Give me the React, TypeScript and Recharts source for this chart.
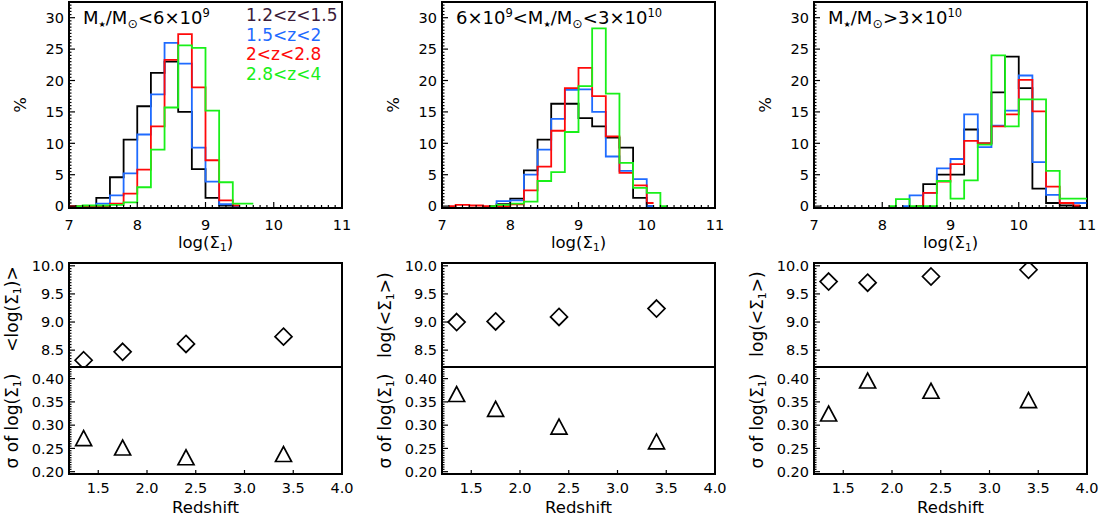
import React from "react";
import { Legend, Line, LineChart, ReferenceArea, Scatter, ScatterChart, XAxis, YAxis } from "recharts";

const FONT = "'DejaVu Sans', sans-serif";
const _ = null;

// histogram bin centres, log(Σ1)
const binCenters = [6.9, 7.1, 7.3, 7.5, 7.7, 7.9, 8.1, 8.3, 8.5, 8.7, 8.9, 9.1, 9.3, 9.5, 9.7, 9.9, 10.1, 10.3, 10.5, 10.7, 10.9, 11.1];

// M* < 6e9
const lowBlack = [_, _, 0, 1.3, 4.6, 10.6, 15.9, 21.2, 23.0, 15.0, 5.9, 1.3, 0.1, 0, _, _, _, _, _, _, _, _];
const lowBlue = [_, _, 0, 0.4, 1.7, 5.2, 11.4, 17.8, 26.0, 22.7, 9.3, 3.9, 0.3, 0, _, _, _, _, _, _, _, _];
const lowRed = [0, 0, 0, 0, 0.4, 2.0, 5.8, 12.7, 23.3, 27.4, 18.9, 7.3, 0.9, 0.1, _, _, _, _, _, _, _, _];
const lowGreen = [_, 0, 0.1, 0.1, 0.2, 0.6, 3.0, 9.0, 15.7, 25.6, 25.2, 15.2, 3.8, 0.4, 0.4, _, _, _, _, _, _, _];

// 6e9 < M* < 3e10
const midBlack = [_, _, _, _, 0, 0.3, 1.2, 5.7, 10.6, 16.3, 16.3, 14.0, 12.7, 10.9, 9.3, 1.3, 0, _, _, _, _, _];
const midBlue = [_, _, _, _, 0, 0.8, 0.9, 5.0, 9.0, 13.9, 18.5, 18.6, 15.0, 7.9, 5.6, 4.3, 0, _, _, _, _, _];
const midRed = [_, 0, 0.2, 0.1, 0, 0, 0.3, 2.5, 6.3, 12.0, 18.8, 22.0, 17.5, 11.1, 5.3, 3.3, 0.5, _, _, _, _, _];
const midGreen = [_, _, _, _, 0, 0.2, 0.4, 0.7, 4.0, 5.4, 11.8, 19.1, 28.3, 17.9, 6.9, 2.9, 2.1, 0, _, _, _, _];

// M* > 3e10
const highBlack = [_, _, _, _, _, _, _, _, 0, 3.5, 5.0, 5.0, 12.2, 10.0, 18.1, 23.8, 18.8, 2.8, 0.5, 0.1, 0, _];
const highBlue = [_, _, _, _, _, _, _, 0, 1.7, 2.1, 6.0, 7.5, 14.6, 9.4, 12.8, 15.2, 20.8, 7.0, 1.8, 0.5, 0.5, 0.5];
const highRed = [_, _, _, _, _, _, _, _, 0, 2.1, 3.9, 6.7, 10.4, 10.0, 12.7, 14.6, 20.1, 15.1, 3.1, 0.5, 0.1, _];
const highGreen = [_, _, _, _, _, _, 0, 1.1, 0, 0, 4.0, 1.2, 4.1, 9.8, 24.0, 12.7, 17.0, 17.0, 5.6, 1.2, 1.2, 1.2];

const zBins = ["1.2<z<1.5", "1.5<z<2", "2<z<2.8", "2.8<z<4"];
const zColors = ["#000000", "#1f6bff", "#ff0a0a", "#19f019"];
const legendColors = ["#3a1c3a", "#1f6bff", "#ff0a0a", "#19f019"];

// mean and scatter of log(Σ1) per redshift bin
const redshift = [1.35, 1.75, 2.4, 3.4];
const meanLow = [8.32, 8.47, 8.61, 8.74];
const meanMid = [9.0, 9.01, 9.09, 9.24];
const meanHigh = [9.72, 9.7, 9.81, 9.93];
const sigmaLow = [0.272, 0.252, 0.231, 0.238];
const sigmaMid = [0.367, 0.335, 0.297, 0.265];
const sigmaHigh = [0.325, 0.396, 0.374, 0.354];

// tick labels
const histXTicks = [7, 8, 9, 10, 11];
const histYTicks = [0, 5, 10, 15, 20, 25, 30];
const zTicks = [1.5, 2.0, 2.5, 3.0, 3.5, 4.0];
const meanTicks = [8.5, 9.0, 9.5, 10.0];
const sigmaTicks = [0.2, 0.25, 0.3, 0.35, 0.4];

const steps = (a: number, b: number, s: number) => {
  const out: number[] = [];
  for (let v = a; v <= b + 1e-9; v += s) out.push(Math.round(v * 1000) / 1000);
  return out;
};

const TICK_FS = 14.5;
const BOX_W = 273;
const COLS = [69, 442, 814];

type Side = "bottom" | "top" | "left" | "right";
const isIn = (list: number[], v: number) => list.some((m) => Math.abs(m - v) < 1e-6);

function tickMaker(side: Side, major: number[], majorLen: number, minorLen: number, fmt?: (v: number) => string, labelDy = 22) {
  return function TickMark(props: any) {
    const x = Number(props.x);
    const y = Number(props.y);
    const v = Number(props.payload?.value);
    const big = isIn(major, v);
    const len = big ? majorLen : minorLen;
    const d = { bottom: [0, -len], top: [0, len], left: [len, 0], right: [-len, 0] }[side];
    return (
      <g>
        <line x1={x} y1={y} x2={x + d[0]} y2={y + d[1]} stroke="#000" strokeWidth={1.2} />
        {fmt && big && side === "bottom" && (
          <text x={x} y={y + labelDy} textAnchor="middle" fontSize={TICK_FS} fontFamily={FONT} fill="#000">
            {fmt(v)}
          </text>
        )}
        {fmt && big && side === "left" && (
          <text x={x - 5} y={y + 5.3} textAnchor="end" fontSize={TICK_FS} fontFamily={FONT} fill="#000">
            {fmt(v)}
          </text>
        )}
      </g>
    );
  };
}

type FrameOpts = {
  xKey: string;
  yKey?: string;
  xDomain: [number, number];
  yDomain: [number, number];
  xAll: number[];
  xMajor: number[];
  yAll: number[];
  yMajor: number[];
  xFmt?: (v: number) => string;
  yFmt: (v: number) => string;
  xLen: [number, number];
  yLen: [number, number];
  bottomH: number;
  leftW: number;
  labelDy?: number;
};

function frame(o: FrameOpts) {
  const common = {
    axisLine: false,
    tickLine: false,
    tickSize: 0,
    tickMargin: 0,
    interval: 0 as const,
    allowDataOverflow: true,
    type: "number" as const,
  };
  return [
    <XAxis key="xb" {...common} xAxisId="b" orientation="bottom" dataKey={o.xKey} domain={o.xDomain} ticks={o.xAll} height={o.bottomH} tick={tickMaker("bottom", o.xMajor, o.xLen[0], o.xLen[1], o.xFmt, o.labelDy)} />,
    <XAxis key="xt" {...common} xAxisId="t" orientation="top" dataKey={o.xKey} domain={o.xDomain} ticks={o.xAll} height={0} tick={tickMaker("top", o.xMajor, o.xLen[0], o.xLen[1])} />,
    <YAxis key="yl" {...common} yAxisId="l" orientation="left" dataKey={o.yKey} domain={o.yDomain} ticks={o.yAll} width={o.leftW} tick={tickMaker("left", o.yMajor, o.yLen[0], o.yLen[1], o.yFmt)} />,
    <YAxis key="yr" {...common} yAxisId="r" orientation="right" dataKey={o.yKey} domain={o.yDomain} ticks={o.yAll} width={0} tick={tickMaker("right", o.yMajor, o.yLen[0], o.yLen[1])} />,
  ];
}

// plot frame drawn through the axes' own scales
function box(xDomain: [number, number], yDomain: [number, number]) {
  return (
    <ReferenceArea
      xAxisId="b"
      yAxisId="l"
      x1={xDomain[0]}
      x2={xDomain[1]}
      y1={yDomain[0]}
      y2={yDomain[1]}
      fill="none"
      fillOpacity={0}
      stroke="#000"
      strokeWidth={2}
      ifOverflow="visible"
    />
  );
}

type Part = string | { t: string; sub?: boolean; sup?: boolean; scale?: number };
const Rich = ({ parts }: { parts: Part[] }) => (
  <>
    {parts.map((p, i) =>
      typeof p === "string" ? (
        <span key={i}>{p}</span>
      ) : (
        <span
          key={i}
          style={{ fontSize: `${p.scale ?? 0.64}em`, position: "relative", top: p.sup ? "-0.6em" : "0.32em" }}
        >
          {p.t}
        </span>
      )
    )}
  </>
);

function Note({ x, y, size, rotate, start, color = "#000", children }: any) {
  const tx = start ? "0" : "-50%";
  return (
    <div
      style={{
        position: "absolute",
        left: x,
        top: y,
        transform: `translate(${tx}, -50%)${rotate ? " rotate(-90deg)" : ""}`,
        fontSize: size,
        fontFamily: FONT,
        color,
        whiteSpace: "nowrap",
        lineHeight: 1,
      }}
    >
      {children}
    </div>
  );
}

const STAR: Part = { t: "★", sub: true, scale: 0.45 };
const SUN: Part = { t: "⊙", sub: true, scale: 0.7 };
const titles: Part[][] = [
  ["M", STAR, "/M", SUN, "<6×10", { t: "9", sup: true }],
  ["6×10", { t: "9", sup: true }, "<M", STAR, "/M", SUN, "<3×10", { t: "10", sup: true }],
  ["M", STAR, "/M", SUN, ">3×10", { t: "10", sup: true }],
];
const meanTitles: Part[][] = [
  ["<log(Σ", { t: "1", sub: true }, ")>"],
  ["log(<Σ", { t: "1", sub: true }, ">)"],
  ["log(<Σ", { t: "1", sub: true }, ">)"],
];
const meanTitleY = [309, 315, 314];
const sigmaTitle: Part[] = ["σ of log(Σ", { t: "1", sub: true }, ")"];
const logTitle: Part[] = ["log(Σ", { t: "1", sub: true }, ")"];

const histSets = [
  [lowBlack, lowBlue, lowRed, lowGreen],
  [midBlack, midBlue, midRed, midGreen],
  [highBlack, highBlue, highRed, highGreen],
];
const meanSets = [meanLow, meanMid, meanHigh];
const sigmaSets = [sigmaLow, sigmaMid, sigmaHigh];
const keys = ["black", "blue", "red", "green"];

const fmtInt = (v: number) => String(v);
const fmt1 = (v: number) => v.toFixed(1);
const fmt2 = (v: number) => v.toFixed(2);

const Diamond = (p: any) => (
  <polygon
    points={`${p.cx},${p.cy - 8.5} ${p.cx + 8.5},${p.cy} ${p.cx},${p.cy + 8.5} ${p.cx - 8.5},${p.cy}`}
    fill="none"
    stroke="#000"
    strokeWidth={1.7}
  />
);
const Triangle = (p: any) => (
  <polygon
    points={`${p.cx - 8},${p.cy + 7.5} ${p.cx},${p.cy - 7.5} ${p.cx + 8},${p.cy + 7.5}`}
    fill="none"
    stroke="#000"
    strokeWidth={1.7}
  />
);

const LEFT_W = 62;
const RIGHT_M = 14;
const HIST_X: [number, number] = [7, 11];
const HIST_Y: [number, number] = [-0.3, 32.5];
const Z_X: [number, number] = [1.2, 4.0];
const MEAN_Y: [number, number] = [8.2, 10.05];
const SIGMA_Y: [number, number] = [0.195, 0.425];

function HistPanel({ col }: { col: number }) {
  const sets = histSets[col];
  const data = binCenters.map((c, i) => ({ x: c, black: sets[0][i], blue: sets[1][i], red: sets[2][i], green: sets[3][i] }));
  return (
    <div style={{ position: "absolute", left: COLS[col] - LEFT_W, top: 0 }}>
      <LineChart width={LEFT_W + BOX_W + RIGHT_M} height={252} data={data} margin={{ top: 2, right: RIGHT_M, bottom: 0, left: 0 }}>
        {frame({
          xKey: "x",
          xDomain: HIST_X,
          yDomain: HIST_Y,
          xAll: steps(7, 11, 0.1),
          xMajor: histXTicks,
          yAll: steps(0, 32, 0.5),
          yMajor: histYTicks,
          xFmt: fmtInt,
          yFmt: fmtInt,
          xLen: [6, 3],
          yLen: [6, 2.5],
          bottomH: 44,
          leftW: LEFT_W,
        })}
        {keys.map((k, i) => (
          <Line
            key={k}
            xAxisId="b"
            yAxisId="l"
            dataKey={k}
            type="step"
            stroke={zColors[i]}
            strokeWidth={1.8}
            dot={false}
            activeDot={false}
            isAnimationActive={false}
          />
        ))}
        {box(HIST_X, HIST_Y)}
        {col === 0 && (
          <Legend
            layout="vertical"
            align="center"
            verticalAlign="middle"
            wrapperStyle={{ left: LEFT_W + 177, top: 6, width: "auto", height: "auto" }}
            content={() => (
              <div style={{ fontFamily: FONT, fontSize: 17, lineHeight: "19.5px", whiteSpace: "nowrap" }}>
                {zBins.map((b, i) => (
                  <div key={b} style={{ color: legendColors[i] }}>
                    {b}
                  </div>
                ))}
              </div>
            )}
          />
        )}
      </LineChart>
    </div>
  );
}

function StatPanel({ col, kind }: { col: number; kind: "mean" | "sigma" }) {
  const isMean = kind === "mean";
  const vals = isMean ? meanSets[col] : sigmaSets[col];
  const pts = redshift.map((z, i) => ({ z, v: vals[i] }));
  const yDomain = isMean ? MEAN_Y : SIGMA_Y;
  const top = isMean ? 253 : 362;
  const margin = isMean ? { top: 10, right: RIGHT_M, bottom: 4, left: 0 } : { top: 5, right: RIGHT_M, bottom: 0, left: 0 };
  return (
    <div style={{ position: "absolute", left: COLS[col] - LEFT_W, top }}>
      <ScatterChart width={LEFT_W + BOX_W + RIGHT_M} height={isMean ? 118 : 157} margin={margin}>
        {frame({
          xKey: "z",
          yKey: "v",
          xDomain: Z_X,
          yDomain,
          xAll: zTicks,
          xMajor: zTicks,
          yAll: isMean ? steps(8.25, 10.0, 0.05) : steps(0.2, 0.42, 0.005),
          yMajor: isMean ? meanTicks : sigmaTicks,
          xFmt: isMean ? undefined : fmt1,
          yFmt: isMean ? fmt1 : fmt2,
          xLen: [4, 4],
          yLen: [6, 2.5],
          bottomH: isMean ? 0 : 45,
          leftW: LEFT_W,
          labelDy: 18.5,
        })}
        <Scatter
          xAxisId="b"
          yAxisId="l"
          data={pts}
          dataKey="v"
          shape={isMean ? Diamond : Triangle}
          isAnimationActive={false}
        />
        {box(Z_X, yDomain)}
      </ScatterChart>
    </div>
  );
}

export default function App() {
  return (
    <div
      style={{
        position: "absolute",
        left: 0,
        top: 0,
        width: 1100,
        height: 519,
        overflow: "hidden",
        background: "#fff",
        fontFamily: FONT,
      }}
    >
      {[0, 1, 2].map((c) => (
        <React.Fragment key={c}>
          <HistPanel col={c} />
          <StatPanel col={c} kind="mean" />
          <StatPanel col={c} kind="sigma" />
          <Note x={COLS[c] + 14} y={18} size={18} start>
            <Rich parts={titles[c]} />
          </Note>
          <Note x={COLS[c] - 48} y={105} size={16.5} rotate>
            %
          </Note>
          <Note x={COLS[c] + BOX_W / 2} y={243} size={16.5}>
            <Rich parts={logTitle} />
          </Note>
          <Note x={COLS[c] - 57} y={meanTitleY[c]} size={17} rotate>
            <Rich parts={meanTitles[c]} />
          </Note>
          <Note x={COLS[c] - 57} y={421} size={17} rotate>
            <Rich parts={sigmaTitle} />
          </Note>
          <Note x={COLS[c] + BOX_W / 2} y={508} size={16.5}>
            Redshift
          </Note>
        </React.Fragment>
      ))}
    </div>
  );
}
